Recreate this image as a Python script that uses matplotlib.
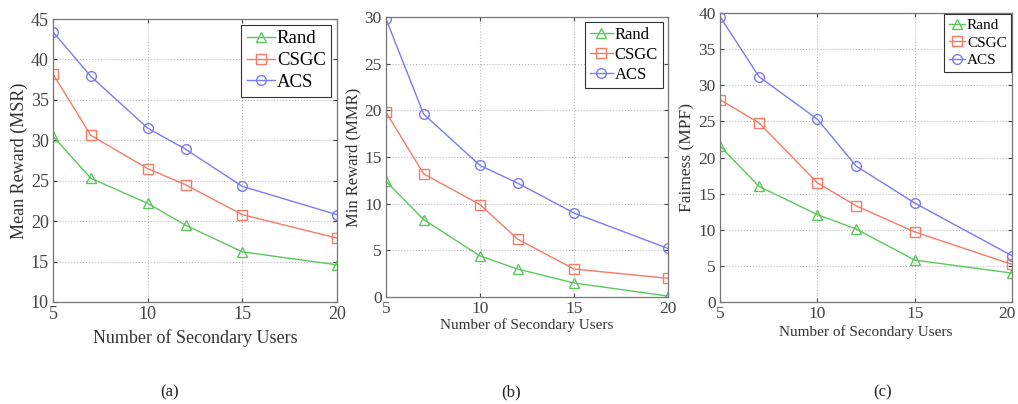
import matplotlib
matplotlib.use("Agg")
import matplotlib.pyplot as plt
from matplotlib.transforms import ScaledTranslation

plt.rcParams['font.family'] = ['Liberation Serif', 'DejaVu Serif']

x_users = [5, 7, 10, 12, 15, 20]
series_names = ["Rand", "CSGC", "ACS"]

msr_rand = [30.5, 25.3, 22.2, 19.5, 16.2, 14.6]
msr_csgc = [38.2, 30.6, 26.5, 24.5, 20.8, 17.9]
msr_acs = [43.4, 37.9, 31.5, 28.9, 24.3, 20.8]

mmr_rand = [12.4, 8.3, 4.4, 3.0, 1.5, 0.1]
mmr_csgc = [19.8, 13.2, 9.9, 6.2, 3.0, 2.0]
mmr_acs = [29.8, 19.6, 14.1, 12.2, 9.0, 5.2]

mpf_rand = [21.6, 16.0, 12.1, 10.1, 5.8, 4.0]
mpf_csgc = [28.0, 24.8, 16.5, 13.3, 9.7, 5.2]
mpf_acs = [39.5, 31.2, 25.3, 18.8, 13.7, 6.4]

x_ticks = [5, 10, 15, 20]
ylabels = ["Mean Reward (MSR)", "Min Reward (MMR)", "Fairness (MPF)"]
xlabel = "Number of Secondary Users"
captions = ["(a)", "(b)", "(c)"]

W, H = 1018, 404
fig = plt.figure(figsize=(W / 100, H / 100), dpi=100)

colors = ["#5cc85c", "#f77a66", "#7a7af5"]
markers = ["^", "s", "o"]

# pixel boxes: left, top, right, bottom
boxes = [(53, 19, 337, 302), (386, 17, 668, 297), (720, 13, 1012, 302)]
ylims = [(10, 45), (0, 30), (0, 40)]
yticks = [list(range(10, 46, 5)), list(range(0, 31, 5)), list(range(0, 41, 5))]
data = [(msr_rand, msr_csgc, msr_acs), (mmr_rand, mmr_csgc, mmr_acs), (mpf_rand, mpf_csgc, mpf_acs)]
ylab_size = [13, 12, 12.5]
xlab_size = [13, 11, 11]
tick_size = [13, 12.5, 12.5]
leg_size = [13.5, 12, 11]
leg_hl = [1.5, 1.4, 1.1]
leg_pad = [0.3, 0.3, 0.05]
xlab_pad = [4, 1, 2]
caption_x = [170, 511, 883]

for i in range(3):
    l, t, r, b = boxes[i]
    ax = fig.add_axes([l / W, (H - b) / H, (r - l) / W, (b - t) / H])
    for s, ys in enumerate(data[i]):
        ax.plot(x_users, ys, color=colors[s], marker=markers[s], markersize=7,
                markerfacecolor='none', markeredgewidth=1.0, linewidth=1.0,
                label=series_names[s])
    ax.set_xlim(5, 20)
    ax.set_ylim(*ylims[i])
    ax.set_xticks(x_ticks)
    ax.set_yticks(yticks[i])
    ax.grid(True, linestyle=':', color='#bbbbbb', linewidth=0.8)
    ax.tick_params(direction='in', top=True, right=True, labelsize=tick_size[i],
                   colors='#444444', length=3, pad=3)
    for sp in ax.spines.values():
        sp.set_color('#777777')
        sp.set_linewidth(0.9)
    ax.set_ylabel(ylabels[i], fontsize=ylab_size[i], color='#333333', labelpad=2)
    ax.set_xlabel(xlabel, fontsize=xlab_size[i], color='#333333', labelpad=xlab_pad[i])
    if i == 2:
        lab = ax.get_xticklabels()[-1]
        lab.set_transform(lab.get_transform() + ScaledTranslation(-4 / 72, 0, fig.dpi_scale_trans))
    leg = ax.legend(loc='upper right', fontsize=leg_size[i], fancybox=False,
                    edgecolor='#333333', framealpha=1, handlelength=leg_hl[i],
                    handletextpad=0.1, borderpad=0.3, labelspacing=0.25,
                    borderaxespad=leg_pad[i])
    leg.get_frame().set_linewidth(0.8)
    fig.text(caption_x[i] / W, 1 - 392 / H, captions[i], ha='center', va='center',
             fontsize=12, color='#222222')

fig.savefig("out.png", dpi=100)
